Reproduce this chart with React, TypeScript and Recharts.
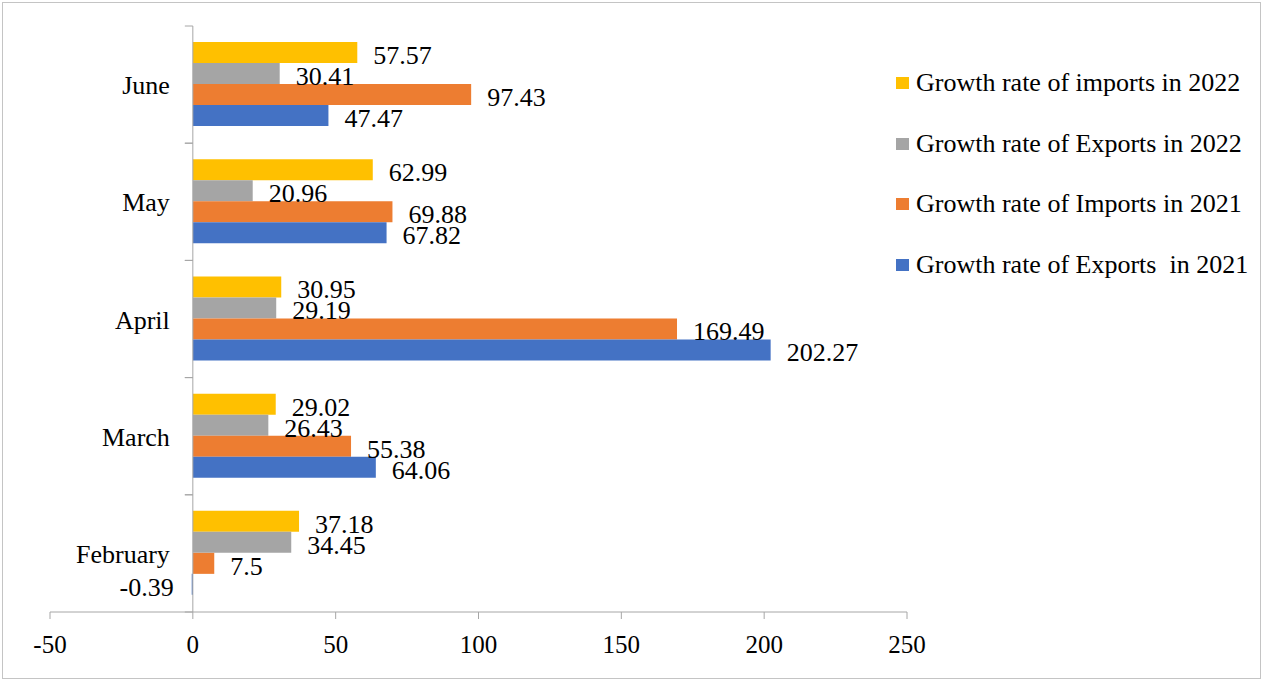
import React from "react";
import { BarChart, Bar, XAxis, YAxis, ReferenceLine, LabelList } from "recharts";

const months = ["June", "May", "April", "March", "February"];
const imports2022 = [57.57, 62.99, 30.95, 29.02, 37.18];
const exports2022 = [30.41, 20.96, 29.19, 26.43, 34.45];
const imports2021 = [97.43, 69.88, 169.49, 55.38, 7.5];
const exports2021 = [47.47, 67.82, 202.27, 64.06, -0.39];
const xTicks = [-50, 0, 50, 100, 150, 200, 250];

const series = [
  { key: "imp22", name: "Growth rate of imports in 2022", color: "#FFC000" },
  { key: "exp22", name: "Growth rate of Exports in 2022", color: "#A5A5A5" },
  { key: "imp21", name: "Growth rate of Imports in 2021", color: "#ED7D31" },
  { key: "exp21", name: "Growth rate of Exports\u00a0 in 2021", color: "#4472C4" },
];

const data = months.map((m, i) => ({
  month: m,
  imp22: imports2022[i],
  exp22: exports2022[i],
  imp21: imports2021[i],
  exp21: exports2021[i],
}));

const FONT = "'Liberation Serif', 'Times New Roman', 'DejaVu Serif', serif";
const W = 1263;
const H = 681;
const LEFT = 50;
const RIGHT = 907;
const TOP = 26;
const BOTTOM = 612;
const X_MIN = -50;
const X_MAX = 250;
const ZERO_X = LEFT + ((0 - X_MIN) / (X_MAX - X_MIN)) * (RIGHT - LEFT);
const BAND = (BOTTOM - TOP) / months.length;
const AXIS = "#a6a6a6";

const CategoryTick = (props: any) => {
  const { y, payload } = props;
  return (
    <g>
      <line x1={ZERO_X - 8} x2={ZERO_X} y1={y - BAND / 2} y2={y - BAND / 2} stroke={AXIS} />
      <line x1={ZERO_X - 8} x2={ZERO_X} y1={y + BAND / 2} y2={y + BAND / 2} stroke={AXIS} />
      <text
        x={ZERO_X - 23}
        y={y + 1}
        textAnchor="end"
        dominantBaseline="central"
        fontSize={26}
        style={{ fontFamily: FONT }}
        fill="#000"
      >
        {payload.value}
      </text>
    </g>
  );
};

const ValueLabel = (props: any) => {
  const { x, y, width, height, value } = props;
  const neg = Number(value) < 0;
  const tx = neg ? Math.min(x, x + width) - 18 : Math.max(x, x + width) + 16;
  return (
    <text
      x={tx}
      y={y + height / 2 + 3}
      textAnchor={neg ? "end" : "start"}
      dominantBaseline="central"
      fontSize={26}
      style={{ fontFamily: FONT }}
      fill="#000"
    >
      {value}
    </text>
  );
};

export default function App() {
  return (
    <div style={{ position: "absolute", left: 0, top: 0, width: W, height: H, background: "#fff", fontFamily: FONT }}>
      <div
        style={{
          position: "absolute",
          left: 2,
          top: 2,
          width: W - 4,
          height: H - 4,
          border: "1px solid #c4c4c4",
          boxSizing: "border-box",
        }}
      />
      <div style={{ position: "absolute", left: 0, top: 0 }}>
        <BarChart
          width={W}
          height={H}
          data={data}
          layout="vertical"
          margin={{ top: TOP, right: W - RIGHT, bottom: H - BOTTOM - 50, left: LEFT - 1 }}
          barCategoryGap="13.7%"
          barGap={0}
          style={{ fontFamily: FONT }}
        >
          <XAxis
            type="number"
            domain={[X_MIN, X_MAX]}
            ticks={xTicks}
            allowDataOverflow
            height={50}
            stroke={AXIS}
            tickSize={7}
            tickMargin={16}
            tick={{ fill: "#000", fontSize: 25, style: { fontFamily: FONT } }}
          />
          <YAxis
            type="category"
            dataKey="month"
            width={1}
            axisLine={false}
            tickLine={false}
            interval={0}
            tick={<CategoryTick />}
          />
          <ReferenceLine x={0} stroke={AXIS} />
          {series.map((s) => (
            <Bar key={s.key} dataKey={s.key} name={s.name} fill={s.color} isAnimationActive={false}>
              <LabelList dataKey={s.key} content={<ValueLabel />} />
            </Bar>
          ))}
        </BarChart>
      </div>
      <div style={{ position: "absolute", left: 896, top: 53, fontSize: 26, color: "#000" }}>
        {series.map((s) => (
          <div key={s.key} style={{ display: "flex", alignItems: "center", height: 60.5, whiteSpace: "pre" }}>
            <span style={{ display: "inline-block", width: 13, height: 12, background: s.color, marginRight: 7 }} />
            <span style={{ lineHeight: "30px" }}>{s.name}</span>
          </div>
        ))}
      </div>
    </div>
  );
}
